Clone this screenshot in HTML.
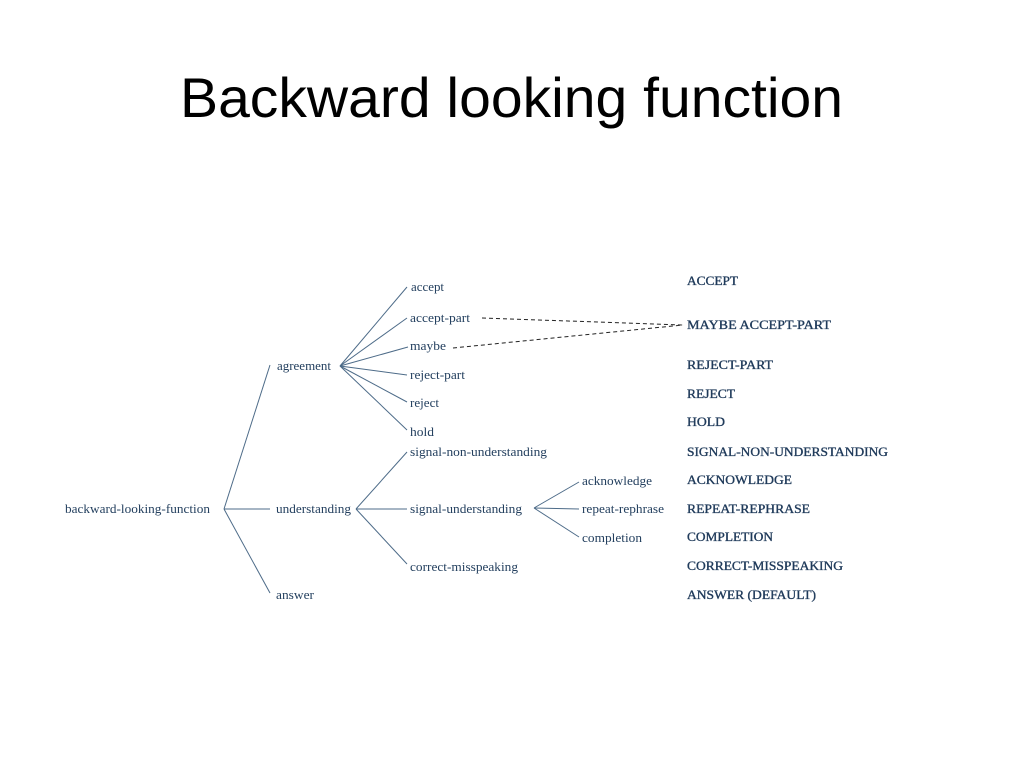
<!DOCTYPE html>
<html>
<head>
<meta charset="utf-8">
<style>
html,body{margin:0;padding:0;background:#fff;}
body{width:1024px;height:768px;overflow:hidden;}
svg{display:block;}
.t{font-family:"Liberation Serif",serif;font-size:12.5px;fill:#24405f;}
.u{font-family:"Liberation Serif",serif;font-size:12.5px;fill:#1f3a5a;stroke:#1f3a5a;stroke-width:0.35px;}
.l{stroke:#4d6b88;stroke-width:1;fill:none;}
.d{stroke:#222;stroke-width:1;fill:none;stroke-dasharray:4 3;}
</style>
</head>
<body>
<svg width="1024" height="768" viewBox="0 0 1024 768" xmlns="http://www.w3.org/2000/svg">
<text x="180" y="117" font-family="Liberation Sans, sans-serif" font-size="56" fill="#000" textLength="663" lengthAdjust="spacingAndGlyphs">Backward looking function</text>

<!-- root lines -->
<line class="l" x1="224" y1="509" x2="270" y2="365"/>
<line class="l" x1="224" y1="509" x2="270" y2="509"/>
<line class="l" x1="224" y1="509" x2="270" y2="593"/>

<!-- agreement lines -->
<line class="l" x1="340" y1="366" x2="407" y2="287"/>
<line class="l" x1="340" y1="366" x2="407" y2="318"/>
<line class="l" x1="340" y1="366" x2="408" y2="347"/>
<line class="l" x1="340" y1="366" x2="407" y2="375"/>
<line class="l" x1="340" y1="366" x2="407" y2="402"/>
<line class="l" x1="340" y1="366" x2="407" y2="430"/>

<!-- understanding lines -->
<line class="l" x1="356" y1="509" x2="407" y2="452"/>
<line class="l" x1="356" y1="509" x2="407" y2="509"/>
<line class="l" x1="356" y1="509" x2="407" y2="564"/>

<!-- signal-understanding lines -->
<line class="l" x1="534" y1="508" x2="579" y2="482"/>
<line class="l" x1="534" y1="508" x2="579" y2="509"/>
<line class="l" x1="534" y1="508" x2="579" y2="537"/>

<!-- dashed -->
<line class="d" x1="482" y1="318" x2="683" y2="325"/>
<line class="d" x1="453" y1="348" x2="683" y2="325"/>

<!-- lowercase labels -->
<text class="t" x="65" y="513" textLength="145" lengthAdjust="spacingAndGlyphs">backward-looking-function</text>
<text class="t" x="277" y="370" textLength="54" lengthAdjust="spacingAndGlyphs">agreement</text>
<text class="t" x="276" y="513" textLength="75" lengthAdjust="spacingAndGlyphs">understanding</text>
<text class="t" x="276" y="599" textLength="38" lengthAdjust="spacingAndGlyphs">answer</text>

<text class="t" x="411" y="291" textLength="33" lengthAdjust="spacingAndGlyphs">accept</text>
<text class="t" x="410" y="322" textLength="60" lengthAdjust="spacingAndGlyphs">accept-part</text>
<text class="t" x="410" y="350" textLength="36" lengthAdjust="spacingAndGlyphs">maybe</text>
<text class="t" x="410" y="379" textLength="55" lengthAdjust="spacingAndGlyphs">reject-part</text>
<text class="t" x="410" y="407" textLength="29" lengthAdjust="spacingAndGlyphs">reject</text>
<text class="t" x="410" y="436" textLength="24" lengthAdjust="spacingAndGlyphs">hold</text>
<text class="t" x="410" y="456" textLength="137" lengthAdjust="spacingAndGlyphs">signal-non-understanding</text>
<text class="t" x="410" y="513" textLength="112" lengthAdjust="spacingAndGlyphs">signal-understanding</text>
<text class="t" x="410" y="571" textLength="108" lengthAdjust="spacingAndGlyphs">correct-misspeaking</text>
<text class="t" x="582" y="485" textLength="70" lengthAdjust="spacingAndGlyphs">acknowledge</text>
<text class="t" x="582" y="513" textLength="82" lengthAdjust="spacingAndGlyphs">repeat-rephrase</text>
<text class="t" x="582" y="542" textLength="60" lengthAdjust="spacingAndGlyphs">completion</text>

<!-- uppercase labels -->
<text class="u" x="687" y="285" textLength="51" lengthAdjust="spacingAndGlyphs">ACCEPT</text>
<text class="u" x="687" y="329" textLength="144" lengthAdjust="spacingAndGlyphs">MAYBE  ACCEPT-PART</text>
<text class="u" x="687" y="369" textLength="86" lengthAdjust="spacingAndGlyphs">REJECT-PART</text>
<text class="u" x="687" y="398" textLength="48" lengthAdjust="spacingAndGlyphs">REJECT</text>
<text class="u" x="687" y="426" textLength="38" lengthAdjust="spacingAndGlyphs">HOLD</text>
<text class="u" x="687" y="456" textLength="201" lengthAdjust="spacingAndGlyphs">SIGNAL-NON-UNDERSTANDING</text>
<text class="u" x="687" y="484" textLength="105" lengthAdjust="spacingAndGlyphs">ACKNOWLEDGE</text>
<text class="u" x="687" y="513" textLength="123" lengthAdjust="spacingAndGlyphs">REPEAT-REPHRASE</text>
<text class="u" x="687" y="541" textLength="86" lengthAdjust="spacingAndGlyphs">COMPLETION</text>
<text class="u" x="687" y="570" textLength="156" lengthAdjust="spacingAndGlyphs">CORRECT-MISSPEAKING</text>
<text class="u" x="687" y="599" textLength="129" lengthAdjust="spacingAndGlyphs">ANSWER (DEFAULT)</text>
</svg>
</body>
</html>
